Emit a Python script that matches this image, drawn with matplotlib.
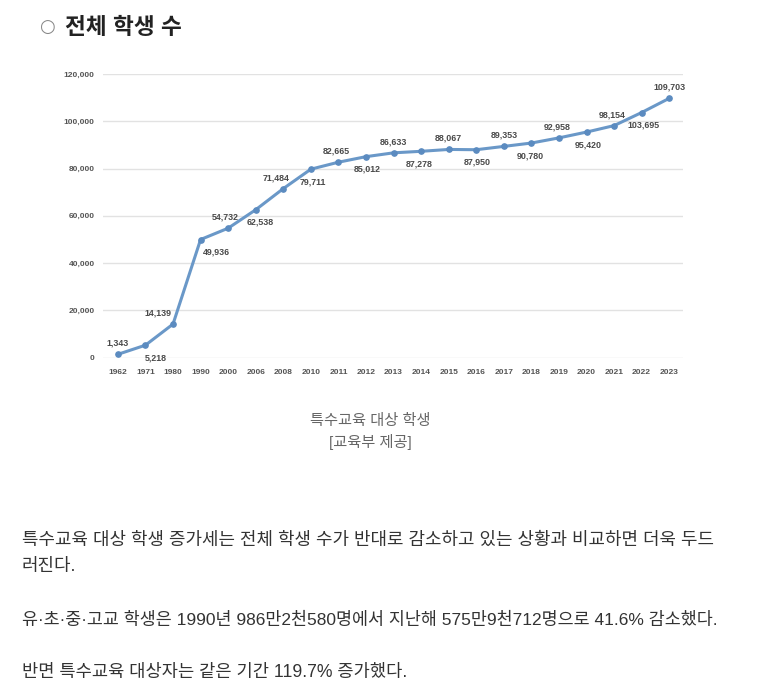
import matplotlib
matplotlib.use("Agg")
import matplotlib.pyplot as plt

plt.rcParams['font.family'] = ['Liberation Sans', 'Noto Sans CJK KR', 'DejaVu Sans']

# Data
years = ["1962", "1971", "1980", "1990", "2000", "2006", "2008", "2010", "2011", "2012", "2013",
         "2014", "2015", "2016", "2017", "2018", "2019", "2020", "2021", "2022", "2023"]
students = [1343, 5218, 14139, 49936, 54732, 62538, 71484, 79711, 82665, 85012, 86633,
            87278, 88067, 87950, 89353, 90780, 92958, 95420, 98154, 103695, 109703]
y_ticks = [0, 20000, 40000, 60000, 80000, 100000, 120000]

title = "전체 학생 수"
caption = ["특수교육 대상 학생", "[교육부 제공]"]
body = [
    "특수교육 대상 학생 증가세는 전체 학생 수가 반대로 감소하고 있는 상황과 비교하면 더욱 두드",
    "러진다.",
    "유·초·중·고교 학생은 1990년 986만2천580명에서 지난해 575만9천712명으로 41.6% 감소했다.",
    "반면 특수교육 대상자는 같은 기간 119.7% 증가했다.",
]

# label placement: alternate above / below, a few nudged sideways
label_dx = [0, 10, -15, 16, -3, 4, -7, 2, -2, 1, 0, -2, 0, 1, 0, -1, -2, 2, -2, 2, 0]

W, H = 759, 698
fig = plt.figure(figsize=(W / 100, H / 100), dpi=100)
fig.patch.set_facecolor("white")

ax = fig.add_axes([103 / W, 1 - 357.5 / H, (683 - 103) / W, (357.5 - 74) / H])
x = list(range(len(years)))
ax.plot(x, students, color="#6a98c8", lw=2.2, marker="o", ms=3.8, mfc="#5b8bc0", mec="#5b8bc0", zorder=3)

for i, v in enumerate(students):
    up = (i % 2 == 0)
    ax.annotate(f"{v:,}", (i, v), xytext=(label_dx[i] * 0.72, 8 if up else -9),
                textcoords="offset points", ha="center", va="center",
                fontsize=6.4, fontweight="bold", color="#4a4a4a")

ax.set_xlim(-0.54, 20.5)
ax.set_ylim(0, 120000)
ax.set_yticks(y_ticks)
ax.set_yticklabels([f"{t:,}" for t in y_ticks])
ax.set_xticks(x)
ax.set_xticklabels(years)
ax.grid(axis="y", color="#e2e2e2", lw=1)
ax.set_axisbelow(True)
for s in ax.spines.values():
    s.set_visible(False)
ax.tick_params(axis="both", length=0, labelsize=6.0, labelcolor="#555555")
ax.tick_params(axis="x", pad=8)
ax.tick_params(axis="y", pad=6)
for lab in ax.get_xticklabels() + ax.get_yticklabels():
    lab.set_fontweight("bold")

# header
fig.text(39 / W, 1 - 27 / H, "○", fontsize=13, color="#888888", va="center", ha="left",
         family=["DejaVu Sans"])
fig.text(65 / W, 1 - 27 / H, title, fontsize=16.3, fontweight="bold", color="#222222",
         va="center", ha="left")

# caption
fig.text(370 / W, 1 - 421 / H, caption[0], fontsize=11, color="#666666", ha="center", va="center")
fig.text(370 / W, 1 - 442 / H, caption[1], fontsize=11, color="#666666", ha="center", va="center")

# body text
body_y = [540, 567, 620, 672]
body_size = [12.9, 12.9, 12.5, 12.7]
for line, yy, fs in zip(body, body_y, body_size):
    fig.text(22 / W, 1 - yy / H, line, fontsize=fs, color="#333333", ha="left", va="center")

fig.savefig("out.png", dpi=100, facecolor="white")
